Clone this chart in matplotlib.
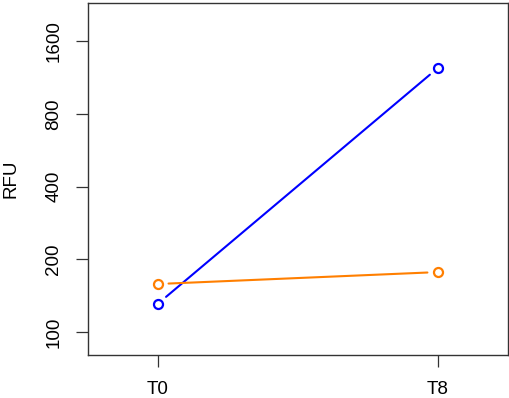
import matplotlib
matplotlib.use("Agg")
import matplotlib.pyplot as plt
from matplotlib.ticker import FixedLocator, NullLocator

plt.rcParams["font.family"] = ["Liberation Sans", "DejaVu Sans"]

# data
timepoints = ["T0", "T8"]
x_pos = [1, 2]
blue_rfu = [131, 1239]
orange_rfu = [158, 177]
y_ticks = [100, 200, 400, 800, 1600]

fig = plt.figure(figsize=(5.10, 3.98), dpi=100)
ax = fig.add_axes([0.1725, 0.108, 0.8235, 0.8845])
ax.set_yscale("log")

gap = 7.6  # points, R type="b" style gap around markers
for vals, col in [(blue_rfu, "#0000FF"), (orange_rfu, "#FF7F00")]:
    ax.plot(x_pos, vals, linestyle="none", marker="o", markersize=6.5,
            markerfacecolor="none", markeredgecolor=col, markeredgewidth=1.6)
    ax.annotate("", xy=(x_pos[1], vals[1]), xytext=(x_pos[0], vals[0]),
                arrowprops=dict(arrowstyle="-", color=col, lw=1.5,
                                shrinkA=gap, shrinkB=gap))

ax.set_xlim(0.75, 2.25)
ax.set_ylim(80.3, 2300)
ax.set_xticks(x_pos)
ax.set_xticklabels(timepoints)
ax.yaxis.set_major_locator(FixedLocator(y_ticks))
ax.yaxis.set_minor_locator(NullLocator())
ax.set_yticklabels([str(v) for v in y_ticks], rotation=90, va="center")
ax.tick_params(axis="both", direction="out", length=8.4, width=0.9,
               labelsize=13.5, pad=10, color="#333333")
ax.set_ylabel("RFU", fontsize=13.5, labelpad=19)
for s in ax.spines.values():
    s.set_linewidth(1.0)
    s.set_color("#333333")

fig.savefig("out.png", dpi=100)
